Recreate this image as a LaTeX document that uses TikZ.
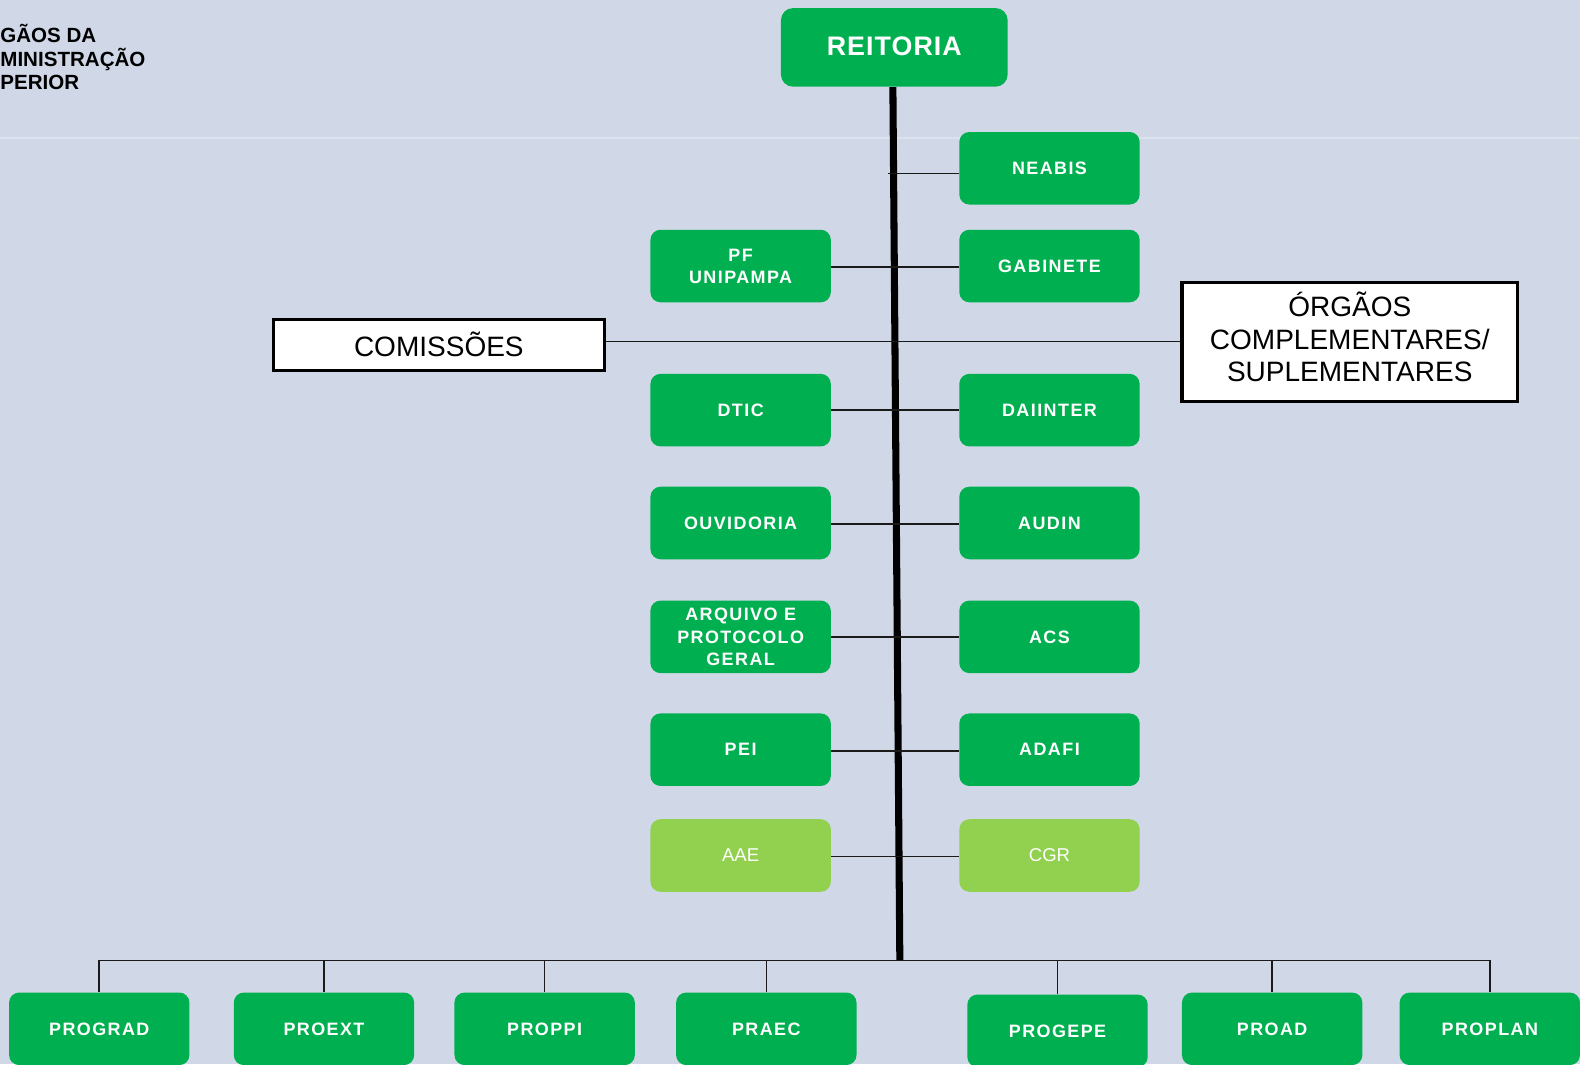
\documentclass[tikz,border=0pt]{standalone}
\usepackage{fontspec}
\setmainfont{Liberation Sans}
\newfontfamily\spacedfont[LetterSpace=8]{Liberation Sans}
\newfontfamily\slightfont[LetterSpace=4]{Liberation Sans}
\definecolor{bgc}{HTML}{D0D8E8}
\definecolor{faintc}{HTML}{DCE3EF}
\definecolor{ogreen}{HTML}{00B050}
\definecolor{lgreen}{HTML}{92D050}
\definecolor{connc}{HTML}{1A1A1A}
\newcommand{\stacklines}[2]{\raisebox{#1}{\begin{tabular}{@{}c@{}}#2\end{tabular}}}
\begin{document}
\begin{tikzpicture}[x=0.5pt,y=-0.5pt,
  gbox/.style={rectangle, rounded corners=5pt, fill=ogreen, text=white,
    minimum width=89.5pt, minimum height=36pt, inner sep=0pt, align=center,
    font=\spacedfont\bfseries\fontsize{8.9}{11}\selectfont},
  lbox/.style={gbox, fill=lgreen, font=\fontsize{9.2}{11}\selectfont},
  wbox/.style={rectangle, draw=black, line width=1.5pt, fill=white,
    inner sep=0pt, align=center, font=\fontsize{13.9}{16}\selectfont},
  conn/.style={draw=connc, line width=0.8pt},
  trunk/.style={draw=black, line width=3.5pt},
  heading/.style={anchor=north west, inner sep=0pt, align=left,
    font=\bfseries\fontsize{10.2}{11.5}\selectfont}
]
\useasboundingbox (0,0) rectangle (1568,1056);
\clip (0,0) rectangle (1568,1056);
\fill[bgc] (0,0) rectangle (1568,1056);
\draw[faintc, line width=0.6pt] (0,137) -- (1568,137);

% heading
\node[heading] (head) at (0,24) {GÃOS DA\\MINISTRAÇÃO\\PERIOR};

% top
\node[gbox, minimum width=112.5pt, minimum height=39pt, rounded corners=6pt,
  font=\slightfont\bfseries\fontsize{13.3}{16}\selectfont] (reitoria) at (887.5,47) {\raisebox{1.5pt}{REITORIA}};

% trunk
\coordinate (trunkend) at (893,953);
\draw[trunk] ([xshift=-0.7pt]reitoria.south) -- (trunkend);

% right column
\node[gbox] (neabis) at (1041.5,167) {NEABIS};
\node[gbox] (gabinete) at (1041.5,264) {GABINETE};
\node[gbox] (daiinter) at (1041.5,407) {DAIINTER};
\node[gbox] (audin) at (1041.5,519) {AUDIN};
\node[gbox] (acs) at (1041.5,632) {ACS};
\node[gbox] (adafi) at (1041.5,744) {ADAFI};
\node[lbox] (cgr) at (1041.5,849) {CGR};

% left column
\node[gbox] (pf) at (735,264) {PF\\UNIPAMPA};
\node[gbox] (dtic) at (735,407) {DTIC};
\node[gbox] (ouvidoria) at (735,519) {OUVIDORIA};
\node[gbox] (arquivo) at (735,632) {ARQUIVO E\\PROTOCOLO\\GERAL};
\node[gbox] (pei) at (735,744) {PEI};
\node[lbox] (aae) at (735,849) {AAE};

% white boxes
\node[wbox, minimum width=164.5pt, minimum height=25.5pt] (comissoes) at (435.5,342.5) {\raisebox{1pt}{COMISSÕES}};
\node[wbox, minimum width=166.5pt, minimum height=59pt] (orgaos) at (1339.5,339) {\stacklines{2.2pt}{ÓRGÃOS\\COMPLEMENTARES/\\SUPLEMENTARES}};

% horizontal connectors
\coordinate (neabisstub) at (881,172);
\draw[conn] (neabisstub) -- (neabisstub -| neabis.west);
\draw[conn] ([yshift=-0.5pt]pf.east) -- ([yshift=-0.5pt]gabinete.west);
\draw[conn] (orgaos.west -| comissoes.east) -- (orgaos.west);
\draw[conn] (dtic.east) -- (daiinter.west);
\draw[conn] ([yshift=-0.5pt]ouvidoria.east) -- ([yshift=-0.5pt]audin.west);
\draw[conn] (arquivo.east) -- (acs.west);
\draw[conn] ([yshift=-0.5pt]pei.east) -- ([yshift=-0.5pt]adafi.west);
\draw[conn] ([yshift=-0.5pt]aae.east) -- ([yshift=-0.5pt]cgr.west);

% bottom row
\node[gbox] (prograd) at (98.5,1021) {PROGRAD};
\node[gbox] (proext) at (321.5,1021) {PROEXT};
\node[gbox] (proppi) at (540.5,1021) {PROPPI};
\node[gbox] (praec) at (760.5,1021) {PRAEC};
\node[gbox] (progepe) at (1049.5,1023) {PROGEPE};
\node[gbox] (proad) at (1262.5,1021) {PROAD};
\node[gbox] (proplan) at (1478.5,1021) {PROPLAN};

% bus
\draw[conn] (prograd.north |- trunkend) -- (proplan.north |- trunkend);
\foreach \n in {prograd,proext,proppi,praec,progepe,proad,proplan}
  \draw[conn] (\n.north |- trunkend) -- (\n.north);
\end{tikzpicture}
\end{document}
